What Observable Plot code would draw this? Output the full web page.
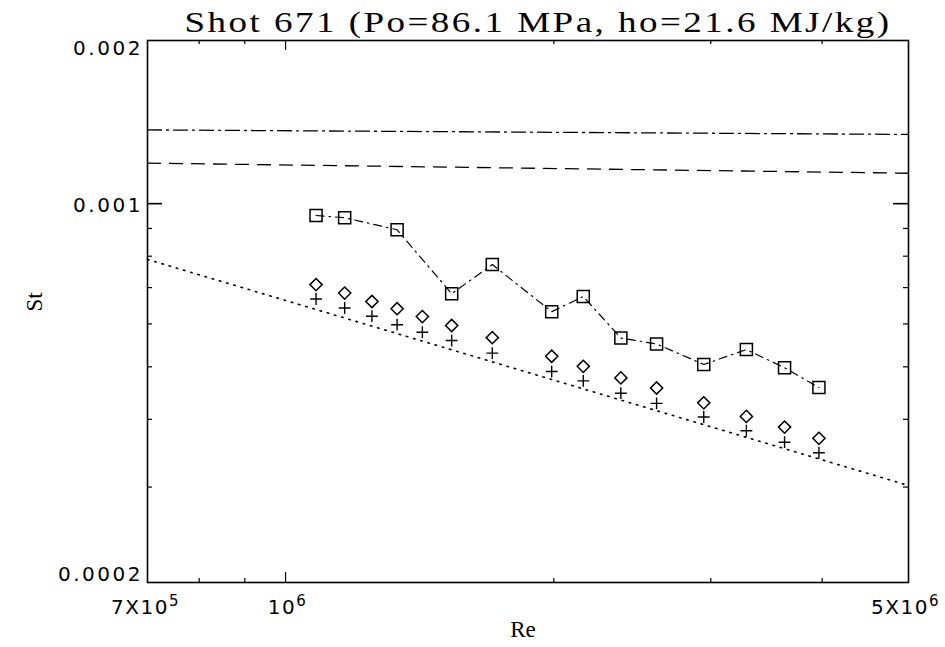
<!DOCTYPE html>
<html><head><meta charset="utf-8">
<script src="https://cdn.jsdelivr.net/npm/d3@7"></script>
<script src="https://cdn.jsdelivr.net/npm/@observablehq/plot@0.6"></script>
<style>body{margin:0;background:#fff}</style>
</head><body><div id="chart"></div>
<script>
// ---- data ----
const title = "Shot 671 (Po=86.1 MPa, ho=21.6 MJ/kg)";
const xLabel = "Re";
const yLabel = "St";

const reSym = [1.082e6, 1.165e6, 1.250e6, 1.334e6, 1.424e6, 1.536e6, 1.706e6, 1.989e6, 2.158e6, 2.378e6, 2.608e6, 2.946e6, 3.289e6, 3.630e6, 3.967e6];
const stDiamond = [0.000709, 0.000684, 0.000660, 0.000640, 0.000619, 0.000596, 0.000566, 0.000523, 0.000501, 0.000477, 0.000457, 0.000429, 0.000405, 0.000387, 0.000369];
const stPlus = [0.000667, 0.000642, 0.000620, 0.000598, 0.000579, 0.000559, 0.000530, 0.000490, 0.000471, 0.000447, 0.000428, 0.000404, 0.000381, 0.000363, 0.000347];

const reSquare = [1.082e6, 1.165e6, 1.334e6, 1.536e6, 1.706e6, 1.989e6, 2.158e6, 2.378e6, 2.608e6, 2.946e6, 3.289e6, 3.630e6, 3.967e6];
const stSquare = [0.000951, 0.000942, 0.000895, 0.000682, 0.000772, 0.000632, 0.000674, 0.000565, 0.000551, 0.000505, 0.000538, 0.000498, 0.000458];

const lineRe = [7e5, 5e6];
const dashDotSt = [0.001368, 0.001342];
const dashedSt = [0.001188, 0.001138];
const dottedSt = [0.000789, 0.000302];

const xTicks = [7e5, 1e6, 5e6];
const xTickBase = ["7X10", "10", "5X10"];
const xTickExp = ["5", "6", "6"];
const xMinorTicks = [8e5, 9e5, 2e6, 3e6, 4e6];
const xMajorInner = [1e6];
const yTicks = [0.0002, 0.001, 0.002];
const yTickLabels = ["0.0002", "0.001", "0.002"];
const yMinorTicks = [0.0003, 0.0004, 0.0005, 0.0006, 0.0007, 0.0008, 0.0009];
const yMajorInner = [0.001];

// ---- layout ----
const W = 945, H = 647;
const mL = 147, mR = 37, mT = 40, mB = 65;
const fw = W - mL - mR, fh = H - mT - mB;
const SANS = "DejaVu Sans", SERIF = "Liberation Serif";

const idx = a => a.map((_, i) => i);
const yLabelOffsets = [-8, 2, 8];
const xLabelOffsets = [-2, 2, -3];

const marks = [
  Plot.frame({stroke: "#000", strokeWidth: 1.6}),
  // ticks (inward)
  Plot.ruleY(yMinorTicks, {insetRight: fw - 5, strokeWidth: 1.2}),
  Plot.ruleY(yMinorTicks, {insetLeft: fw - 5, strokeWidth: 1.2}),
  Plot.ruleY(yMajorInner, {insetRight: fw - 15, strokeWidth: 1.6}),
  Plot.ruleY(yMajorInner, {insetLeft: fw - 15, strokeWidth: 1.6}),
  Plot.ruleX(xMinorTicks, {insetTop: fh - 4, strokeWidth: 1.2}),
  Plot.ruleX(xMinorTicks, {insetBottom: fh - 4, strokeWidth: 1.2}),
  Plot.ruleX(xMajorInner, {insetTop: fh - 10, strokeWidth: 1.2}),
  Plot.ruleX(xMajorInner, {insetBottom: fh - 10, strokeWidth: 1.2}),
  // reference lines
  Plot.line(idx(lineRe), {x: i => lineRe[i], y: i => dashDotSt[i], stroke: "#000", strokeWidth: 1.3, strokeDasharray: "14,5,2,5"}),
  Plot.line(idx(lineRe), {x: i => lineRe[i], y: i => dashedSt[i], stroke: "#000", strokeWidth: 1.3, strokeDasharray: "13,9"}),
  Plot.line(idx(lineRe), {x: i => lineRe[i], y: i => dottedSt[i], stroke: "#000", strokeWidth: 1.6, strokeDasharray: "1.5,6", strokeLinecap: "round"}),
  // square series
  Plot.line(idx(reSquare), {x: i => reSquare[i], y: i => stSquare[i], stroke: "#000", strokeWidth: 1.2, strokeDasharray: "8,5,1.5,5"}),
  Plot.dot(idx(reSquare), {x: i => reSquare[i], y: i => stSquare[i], symbol: "square", r: 6.8, stroke: "#000", fill: "none", strokeWidth: 1.5}),
  Plot.dot(idx(reSym), {x: i => reSym[i], y: i => stDiamond[i], symbol: "diamond2", r: 5.5, stroke: "#000", fill: "none", strokeWidth: 1.5}),
  Plot.dot(idx(reSym), {x: i => reSym[i], y: i => stPlus[i], symbol: "plus", r: 3.9, stroke: "#000", fill: "none", strokeWidth: 1.4}),
  // tick labels
  ...yTicks.map((v, i) => Plot.text([v], {y: d => d, text: () => yTickLabels[i], frameAnchor: "left", textAnchor: "end", dx: -7, dy: yLabelOffsets[i], fontSize: 20, fontFamily: SANS, fill: "#000"})),
  ...xTicks.map((v, i) => Plot.text([v], {x: d => d, text: () => xTickBase[i], frameAnchor: "bottom", lineAnchor: "middle", dy: 25, dx: xLabelOffsets[i], fontSize: 20, fontFamily: SANS, fill: "#000"})),
  // axis labels and title
  Plot.text([xLabel], {text: d => d, frameAnchor: "bottom", dy: 54, dx: -5, fontSize: 23, fontFamily: SERIF, fill: "#000"}),
  Plot.text([yLabel], {text: d => d, frameAnchor: "left", dx: -113, rotate: -90, fontSize: 23, fontFamily: SERIF, fill: "#000"}),
  Plot.text([title], {text: d => d, frameAnchor: "top", dy: -30, dx: 10, fontSize: 30, fontFamily: SERIF, fill: "#000"})
];

const chart = Plot.plot({
  width: W, height: H,
  marginLeft: mL, marginRight: mR, marginTop: mT, marginBottom: mB,
  style: {background: "#fff", color: "#000", fontFamily: SANS, overflow: "visible"},
  x: {type: "log", domain: [7e5, 5e6], axis: null},
  y: {type: "log", domain: [0.0002, 0.002], axis: null},
  marks
});
document.getElementById("chart").appendChild(chart);

const texts = d3.select(chart).selectAll("text");
// title: a little letter spacing, then fit to the reference width
texts.filter(function() { return this.textContent === title; })
  .style("letter-spacing", "2px")
  .attr("textLength", 707).attr("lengthAdjust", "spacingAndGlyphs");
// widen y tick labels by spacing only
texts.filter(function() { return yTickLabels.includes(this.textContent); })
  .each(function() { const w = this.getComputedTextLength(); d3.select(this).attr("textLength", w * 1.18).attr("lengthAdjust", "spacing"); });
// x tick labels: add superscript exponents
texts.filter(function() { return xTickBase.includes(this.textContent) && this.childNodes.length === 1; })
  .each(function() {
    const i = xTickBase.indexOf(this.textContent);
    const t = d3.select(this).style("letter-spacing", "1.5px");
    t.append("tspan").attr("dy", "-0.5em").attr("font-size", 15).text(xTickExp[i]);
  });
</script>
</body></html>
